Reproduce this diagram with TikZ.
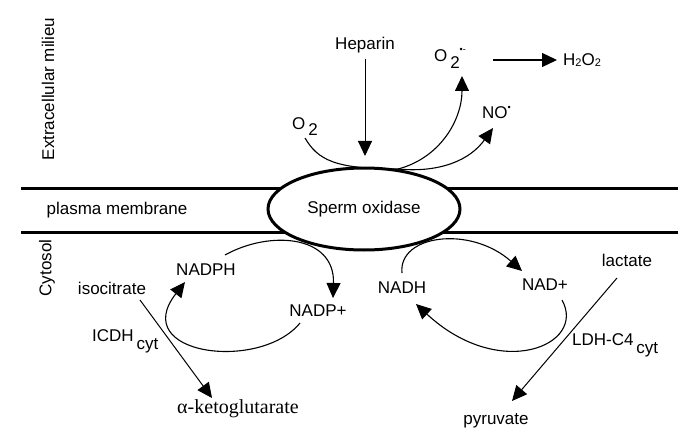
\documentclass[tikz,border=0pt]{standalone}
\usepackage{fontspec}
\setmainfont{Liberation Sans}
\newfontfamily\serifx{Liberation Serif}
\usetikzlibrary{arrows.meta,shapes.geometric}
\begin{document}
\begin{tikzpicture}[x=1pt,y=-1pt,
  lbl/.style={font=\fontsize{17}{20}\selectfont, inner sep=0pt},
  conn/.style={line width=1.1pt},
  tip/.style={-{Triangle[length=15pt,width=14pt]}},
  arr/.style={conn,tip},
  memb/.style={line width=3pt}]
\useasboundingbox (0,0) rectangle (685,433);

% membrane
\coordinate (mtl) at (21,188);
\coordinate (mtr) at (678,188);
\coordinate (mbl) at (21,232);
\coordinate (mbr) at (678,232);
\draw[memb] (mtl) -- (mtr);
\draw[memb] (mbl) -- (mbr);
\node[ellipse, draw, line width=3pt, fill=white, minimum width=192pt, minimum height=82pt, inner sep=0pt,
      font=\fontsize{17}{20}\selectfont] (sox) at (364,209) {Sperm oxidase};

% side labels
\node[lbl, rotate=90] (ext) at (48,89) {Extracellular milieu};
\node[lbl] (pm) at (117,210) {plasma membrane};
\node[lbl, rotate=90] (cyto) at (47,268) {Cytosol};

% extracellular
\node[lbl] (hep) at (365,45) {Heparin};
\node[lbl, anchor=west] (o2r) at (434,58) {O\,\raisebox{-7pt}{2}\raisebox{9pt}{\fontsize{9}{9}\selectfont •-}};
\node[lbl, anchor=west, font=\fontsize{17}{20}\selectfont] (h2o2) at (563,60) {H\raisebox{-1pt}{\fontsize{11}{11}\selectfont 2}O\raisebox{-1pt}{\fontsize{11}{11}\selectfont 2}};
\node[lbl, anchor=west] (no) at (482,112) {NO\raisebox{8pt}{\fontsize{9}{9}\selectfont •}};
\node[lbl, anchor=west] (o2) at (292,127) {O\,\raisebox{-6pt}{2}};

\coordinate (heptip) at (365,156);
\coordinate (o2start) at (305,138);
\coordinate (otop) at (398,169);
\coordinate (o2rtip) at (462,76);
\coordinate (notip) at (493,128);
\coordinate (h2s) at (493,60);
\coordinate (h2e) at (557,60);

\draw[conn, tip, line width=0.9pt] (hep.south) ++(0,6) -- (heptip);
\draw[conn] (o2start) .. controls (318,160) and (335,169) .. (otop);
\draw[arr] (otop) .. controls (440,158) and (462,120) .. (o2rtip);
\draw[arr] (otop) .. controls (440,173) and (470,160) .. (notip);
\draw[arr, line width=1.4pt] (h2s) -- (h2e);

% cytosol left
\node[lbl] (nadph) at (206,270) {NADPH};
\node[lbl] (iso) at (112,288) {isocitrate};
\node[lbl] (nadpp) at (318,311) {NADP+};
\node[lbl, anchor=west] (icdh) at (92,341) {ICDH\,\raisebox{-8pt}{cyt}};
\node[inner sep=0pt, font=\serifx\fontsize{20}{24}\selectfont] (akg) at (238,409) {α-ketoglutarate};

\coordinate (c1s) at (225,255);
\coordinate (c1e) at (333,298);
\coordinate (c2s) at (300,323);
\coordinate (c2e) at (185,282);
\draw[arr] (c1s) .. controls (270,230) and (335,235) .. (c1e);
\draw[arr] (c2s) .. controls (260,372) and (128,355) .. (c2e);
\coordinate (isos) at (140,300);
\coordinate (akgt) at (212,398);
\draw[arr, line width=1pt] (isos) -- (akgt);

% cytosol right
\node[lbl] (nadh) at (402,288) {NADH};
\node[lbl] (nadp) at (545,285) {NAD+};
\node[lbl] (lac) at (627,260) {lactate};
\node[lbl, anchor=west] (ldh) at (572,345) {LDH-C4\,\raisebox{-8pt}{cyt}};
\node[lbl] (pyr) at (496,421) {pyruvate};

\coordinate (c3s) at (402,273);
\coordinate (c3e) at (522,271);
\coordinate (c4s) at (562,300);
\coordinate (c4e) at (416,304);
\draw[arr] (c3s) .. controls (398,235) and (470,225) .. (c3e);
\draw[arr] (c4s) .. controls (587,345) and (500,382) .. (c4e);
\coordinate (lacs) at (617,278);
\coordinate (pyrt) at (512,401);
\draw[arr, line width=1pt] (lacs) -- (pyrt);
\end{tikzpicture}
\end{document}
